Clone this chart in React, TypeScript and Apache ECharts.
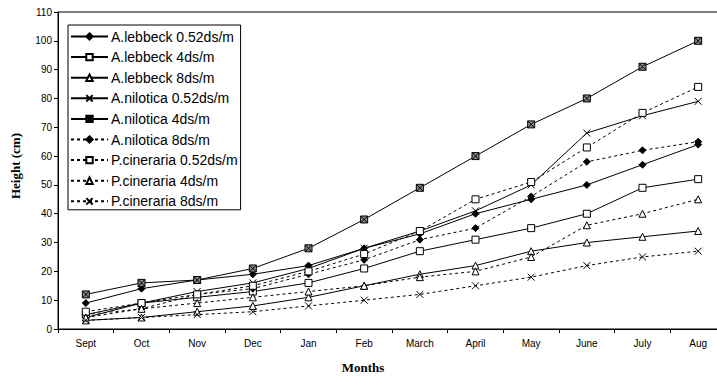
import React, { useEffect, useRef } from "react";
import * as echarts from "echarts";

const months = ["Sept", "Oct", "Nov", "Dec", "Jan", "Feb", "March", "April", "May", "June", "July", "Aug"];
const yTicks = [0, 10, 20, 30, 40, 50, 60, 70, 80, 90, 100, 110];

const lebbeck052 = [9, 14, 17, 19, 22, 28, 33, 40, 45, 50, 57, 64];
const lebbeck4 = [5, 9, 11, 13, 16, 21, 27, 31, 35, 40, 49, 52];
const lebbeck8 = [3, 4, 6, 8, 11, 15, 19, 22, 27, 30, 32, 34];
const nilotica052 = [4, 9, 13, 16, 21, 28, 34, 41, 50, 68, 74, 79];
const nilotica4 = [12, 16, 17, 21, 28, 38, 49, 60, 71, 80, 91, 100];
const nilotica8 = [5, 7, 12, 14, 19, 24, 31, 35, 46, 58, 62, 65];
const cineraria052 = [6, 9, 12, 15, 20, 26, 34, 45, 51, 63, 75, 84];
const cineraria4 = [4, 7, 9, 11, 13, 15, 18, 20, 25, 36, 40, 45];
const cineraria8 = [3, 4, 5, 6, 8, 10, 12, 15, 18, 22, 25, 27];

const seriesNames = [
  "A.lebbeck 0.52ds/m",
  "A.lebbeck 4ds/m",
  "A.lebbeck 8ds/m",
  "A.nilotica 0.52ds/m",
  "A.nilotica 4ds/m",
  "A.nilotica 8ds/m",
  "P.cineraria 0.52ds/m",
  "P.cineraria 4ds/m",
  "P.cineraria 8ds/m",
];

const CROSS = "path://M0,0L10,10M10,0L0,10";
const BOXCROSS = "path://M0,0L10,0L10,10L0,10ZM0,0L10,10M10,0L0,10";

export default function App() {
  const ref = useRef<HTMLDivElement>(null);
  useEffect(() => {
    if (!ref.current) return;
    const chart = echarts.init(ref.current, null, { renderer: "svg" });
    const font = "'Liberation Sans', Arial, sans-serif";
    const mk = (
      name: string,
      data: number[],
      symbol: string,
      fill: string,
      dotted: boolean,
      size: number
    ) => ({
      name,
      type: "line",
      data,
      symbol,
      symbolSize: size,
      showSymbol: true,
      lineStyle: { color: "#000", width: 1, type: dotted ? [3, 3] : "solid" },
      itemStyle: { color: fill, borderColor: "#000", borderWidth: 1 },
      emphasis: { disabled: true },
    });
    const dataSets = [lebbeck052, lebbeck4, lebbeck8, nilotica052, nilotica4, nilotica8, cineraria052, cineraria4, cineraria8];
    const specs: [string, string, boolean, number][] = [
      ["diamond", "#000", false, 7],
      ["rect", "#fff", false, 7],
      ["triangle", "#fff", false, 7],
      [CROSS, "none", false, 7],
      [BOXCROSS, "#888", false, 7],
      ["diamond", "#000", true, 7],
      ["rect", "#fff", true, 7],
      ["triangle", "#fff", true, 7],
      [CROSS, "none", true, 7],
    ];
    const series = dataSets.map((d, i) => mk(seriesNames[i], d, specs[i][0], specs[i][1], specs[i][2], specs[i][3]));

    chart.setOption({
      animation: false,
      grid: { left: 58, right: 1, top: 12, bottom: 50, show: true, borderColor: "#000", borderWidth: 1 },
      xAxis: {
        type: "category",
        data: months,
        boundaryGap: true,
        axisLine: { lineStyle: { color: "#000", width: 1 } },
        axisTick: { show: true, length: 4, lineStyle: { color: "#000" } },
        axisLabel: { color: "#000", fontSize: 10, fontFamily: font, margin: 9 },
        splitLine: { show: false },
      },
      yAxis: {
        type: "value",
        min: yTicks[0],
        max: yTicks[yTicks.length - 1],
        interval: 10,
        axisLine: { show: true, lineStyle: { color: "#000", width: 1 } },
        axisTick: { show: true, length: 4, lineStyle: { color: "#000" } },
        axisLabel: { color: "#000", fontSize: 10, fontFamily: font, margin: 6 },
        splitLine: { show: false },
      },
      legend: {
        orient: "vertical",
        left: 68,
        top: 25,
        backgroundColor: "#fff",
        borderColor: "#000",
        borderWidth: 1,
        borderRadius: 0,
        padding: [4, 3, 1, 2],
        itemWidth: 37,
        itemHeight: 8,
        itemGap: 5.6,
        selectedMode: false,
        textStyle: { color: "#000", fontSize: 14, fontFamily: font, lineHeight: 15, padding: [0, 0, 0, -2] },
        data: seriesNames,
      },
      graphic: [
        {
          type: "text",
          x: 15,
          y: 166,
          rotation: Math.PI / 2,
          style: {
            text: "Height (cm)",
            font: "bold 13px 'Liberation Serif', 'Times New Roman', serif",
            fill: "#000",
            align: "center",
            verticalAlign: "middle",
          },
        },
        {
          type: "text",
          x: 363,
          y: 367,
          style: {
            text: "Months",
            font: "bold 13px 'Liberation Serif', 'Times New Roman', serif",
            fill: "#000",
            align: "center",
            verticalAlign: "middle",
          },
        },
      ],
      series,
    });
    return () => chart.dispose();
  }, []);
  return (
    <div style={{ position: "fixed", left: 0, top: 0, width: 717, height: 379, overflow: "hidden", background: "#fff" }}>
      <div ref={ref} style={{ width: 727, height: 379 }} />
    </div>
  );
}
